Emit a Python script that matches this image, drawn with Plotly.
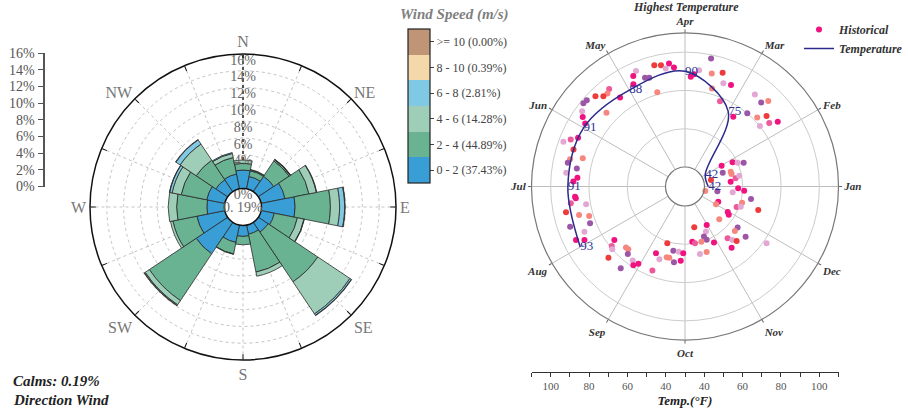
import plotly.graph_objects as go

W, H = 908, 412
SERIF = "Liberation Serif"

# ---------------- Wind rose data ----------------
directions = ['N', 'NNE', 'NE', 'ENE', 'E', 'ESE', 'SE', 'SSE',
              'S', 'SSW', 'SW', 'WSW', 'W', 'WNW', 'NW', 'NNW']
dir_angles = [0, 22.5, 45, 67.5, 90, 112.5, 135, 157.5,
              180, 202.5, 225, 247.5, 270, 292.5, 315, 337.5]
speed_bins = ['0 - 2 (37.43%)', '2 - 4 (44.89%)', '4 - 6 (14.28%)',
              '6 - 8 (2.81%)', '8 - 10 (0.39%)', '>= 10 (0.00%)']
freq_0_2 = [2.2, 1.5, 2.2, 2.9, 4.0, 1.6, 1.4, 1.1, 1.3, 2.1, 4.5, 3.4, 2.1, 2.2, 1.7, 1.8]
freq_2_4 = [0.8, 0.7, 2.2, 2.9, 4.2, 2.8, 7.1, 4.6, 1.0, 1.4, 6.7, 2.9, 3.6, 3.1, 2.8, 2.0]
freq_4_6 = [0.4, 0.1, 0.15, 0.9, 1.1, 0.8, 4.6, 0.5, 0.0, 0.05, 0.6, 0.3, 1.0, 1.1, 2.3, 0.5]
freq_6_8 = [0.0, 0.05, 0.05, 0.05, 0.6, 0.05, 0.2, 0.0, 0.0, 0.0, 0.1, 0.0, 0.0, 0.3, 0.6, 0.1]
freq_8_10 = [0.0, 0.0, 0.03, 0.0, 0.05, 0.0, 0.05, 0.0, 0.0, 0.0, 0.05, 0.0, 0.0, 0.03, 0.05, 0.0]
freq_ge10 = [0.0] * 16
rose_ticks = [0, 2, 4, 6, 8, 10, 12, 14, 16]
calms_text = '0. 19%'

# ---------------- Temperature data ----------------
months = ['Jan', 'Feb', 'Mar', 'Apr', 'May', 'Jun', 'Jul', 'Aug', 'Sep', 'Oct', 'Nov', 'Dec']
month_angles = [0, 30, 60, 90, 120, 150, 180, 210, 240, 270, 300, 330]
temp_theta = [0, 30, 60, 90, 120, 150, 180, 210]
temp_values = [42, 42, 75, 90, 88, 91, 91, 93]
temp_ticks = [40, 60, 80, 100]

hist_theta = [97.4, 101.2, 104.2, 99.3, 95.3, 113.0, 110.2, 108.2, 115.1, 116.8,
              126.1, 127.9, 129.8, 132.1, 134.8, 138.7, 140.7, 143.8, 145.8, 136.8,
              106.4, 147.7, 155.5, 157.6, 159.8, 161.6, 166.7, 164.6, 168.5, 170.5,
              173.4, 175.3, 177.5, 185.3, 87.0, 85.4, 83.1, 78.5, 76.7, 74.6,
              14.0, 347.5, 71.7, 69.6, 65.6, 67.7, 52.8, 47.8, 45.8, 55.3,
              49.6, 43.7, 40.8, 38.9, 37.0, 34.9, 26.9, 24.3, 22.1, 29.5,
              20.1, 17.9, 15.0, 9.2, 11.2, 6.0, 358.1, 356.0, 353.1, 351.5,
              349.3, 344.1, 338.4, 340.1, 342.2, 335.5, 329.2, 327.2, 316.3, 299.4,
              294.9, 322.0, 318.3, 290.7, 292.1, 286.5, 297.3, 309.5, 311.5, 313.5,
              320.4, 307.3, 325.2, 288.3, 282.5, 186.2, 188.4, 190.2, 192.2, 195.0,
              197.1, 201.2, 199.3, 204.2, 206.1, 208.0, 217.1, 219.1, 220.8, 226.0,
              227.9, 229.7, 222.9, 234.8, 236.7, 238.9, 231.8, 248.8, 252.7, 246.5,
              250.6, 255.5, 257.6, 259.7, 264.5, 268.5, 261.7, 266.7, 277.5, 280.0,
              282.8, 330.1]
hist_temp = [94.6, 94.4, 95.2, 92.3, 92.3, 95.3, 90.3, 89.6, 93.5, 89.6,
             87.4, 94.3, 93.1, 93.4, 96.2, 98.1, 98.4, 96.4, 94.4, 86.1,
             81.1, 91.5, 91.2, 94.4, 97.5, 91.2, 91.5, 85.2, 92.3, 87.1,
             92.3, 86.2, 88.2, 87.5, 87.2, 88.7, 91.0, 98.1, 90.5, 82.9,
             43.8, 40.7, 92.4, 87.3, 88.0, 78.0, 90.2, 89.1, 92.2, 74.1,
             80.0, 82.0, 86.1, 80.1, 84.9, 88.9, 57.7, 60.0, 62.9, 51.8,
             50.8, 54.9, 55.0, 56.6, 58.7, 53.8, 57.6, 60.8, 54.9, 46.9,
             64.9, 60.8, 58.8, 60.8, 70.0, 48.9, 55.8, 57.0, 54.6, 52.9,
             55.8, 64.7, 64.7, 57.8, 59.9, 59.9, 62.8, 64.8, 67.1, 69.0,
             70.9, 70.0, 81.7, 65.8, 65.9, 87.2, 90.1, 82.3, 93.4, 87.1,
             82.2, 83.0, 93.4, 87.4, 93.2, 89.3, 76.1, 79.1, 80.0, 74.2,
             74.0, 76.0, 84.4, 77.2, 79.0, 77.0, 84.1, 76.9, 60.9, 67.8,
             70.1, 68.0, 67.9, 63.9, 64.0, 64.7, 69.8, 68.7, 58.9, 59.9,
             51.6, 48.5]
# year group of each historical observation (0..5)
hist_group = [0, 1, 1, 4, 0, 4, 3, 3, 0, 0,
              0, 5, 2, 1, 1, 3, 3, 4, 0, 2,
              2, 0, 0, 5, 4, 1, 2, 2, 3, 3,
              4, 0, 0, 0, 0, 0, 4, 3, 2, 2,
              1, 2, 1, 4, 0, 5, 4, 3, 2, 0,
              3, 2, 1, 4, 5, 0, 0, 4, 3, 0,
              3, 2, 2, 5, 4, 0, 0, 0, 4, 3,
              3, 2, 5, 4, 1, 0, 0, 0, 2, 0,
              4, 3, 2, 3, 3, 2, 0, 5, 4, 1,
              3, 0, 4, 2, 4, 0, 5, 4, 1, 2,
              2, 3, 3, 4, 0, 0, 0, 5, 4, 2,
              2, 3, 1, 4, 0, 0, 3, 5, 1, 0,
              4, 2, 2, 3, 4, 0, 3, 0, 0, 5,
              1, 2]

# ---------------- styles ----------------
speed_colors = ['#3A9ED6', '#69B393', '#9FCEB8', '#80C9E5', '#F4D8A9', '#C09477']
group_colors = ['#F0137F', '#EE3B3B', '#F6877F', '#9C56A6', '#E2A8D3', '#EC5A9B']
freq_sets = [freq_0_2, freq_2_4, freq_4_6, freq_6_8, freq_8_10, freq_ge10]

fig = go.Figure()

for vals, col, name in zip(freq_sets, speed_colors, speed_bins):
    fig.add_trace(go.Barpolar(
        theta=dir_angles, r=vals, width=[22.5] * len(dir_angles), name=name,
        marker=dict(color=col, line=dict(color='#2a2a2a', width=0.8)),
        subplot='polar', showlegend=False))

# dotted radial axis line of the wind rose (only the part above the N bar)
n_top = sum(f[0] for f in freq_sets)
fig.add_trace(go.Scatterpolar(
    theta=[dir_angles[0], dir_angles[0]], r=[n_top, rose_ticks[-1]],
    mode='lines', line=dict(color='#222', width=1.5, dash='dot'),
    subplot='polar', showlegend=False, hoverinfo='skip'))

# radial tick labels along the N axis
rose_label_vals = [t for t in rose_ticks if t != 2]
fig.add_trace(go.Scatterpolar(
    theta=[dir_angles[0]] * len(rose_label_vals), r=rose_label_vals,
    text=[f'{t}%' for t in rose_label_vals], mode='text', textposition='bottom center',
    textfont=dict(family=SERIF, size=14, color='#666'), cliponaxis=False,
    subplot='polar', showlegend=False, hoverinfo='skip'))

# historical points
fig.add_trace(go.Scatterpolar(
    theta=hist_theta, r=hist_temp, mode='markers', name='Historical',
    marker=dict(size=6, color=[group_colors[g] for g in hist_group]),
    subplot='polar2'))

# temperature line
fig.add_trace(go.Scatterpolar(
    theta=temp_theta, r=temp_values, mode='lines+text', name='Temperature',
    text=[str(v) for v in temp_values], textposition='middle right',
    textfont=dict(family=SERIF, size=13, color='#2E3192'),
    line=dict(color='#2B2B8C', width=1.5, shape='spline'),
    subplot='polar2', cliponaxis=False))

# left auxiliary percentage axis + colorbar legend (dummy trace)
n_bins = len(speed_bins)
cs = []
for i, c in enumerate(speed_colors):
    cs.append([i / n_bins, c])
    cs.append([(i + 1) / n_bins, c])
fig.add_trace(go.Scatter(
    x=[None], y=[None], mode='markers', xaxis='x2', yaxis='y2', showlegend=False,
    hoverinfo='skip',
    marker=dict(color=[0], cmin=0, cmax=n_bins, colorscale=cs, showscale=True,
                colorbar=dict(x=408 / W, xanchor='left', y=1 - 29 / H, yanchor='top',
                              len=154, lenmode='pixels', thickness=22, thicknessmode='pixels',
                              outlinecolor='#222', outlinewidth=1.2, xpad=0, ypad=0,
                              tickvals=[i + 0.5 for i in range(n_bins)], ticktext=speed_bins,
                              ticks='outside', ticklen=4, tickcolor='#444',
                              tickfont=dict(family=SERIF, size=12, color='#444')))))

# bottom temperature axis dummy
fig.add_trace(go.Scatter(x=[None], y=[None], xaxis='x', yaxis='y', showlegend=False,
                         hoverinfo='skip'))

# temperature axis ticks: mirrored radial scale (hole offset 10 units)
r_center = temp_ticks[0] - 10
r_max = 110
tick_pos = list(range(-(r_max - r_center), r_max - r_center + 1, 10))
tick_txt = [str(abs(p) + r_center) if (p != 0 and abs(p) + r_center in temp_ticks) else ''
            for p in tick_pos]


def ann(text, x, y, size, color, bold_italic=True, xanchor='center'):
    f = dict(family=SERIF, size=size, color=color)
    if bold_italic:
        f.update(weight='bold', style='italic')
    return dict(text=text, x=x / W, y=1 - y / H, xref='paper', yref='paper',
                xanchor=xanchor, yanchor='middle', showarrow=False, font=f)


fig.update_layout(
    width=W, height=H, margin=dict(l=0, r=0, t=0, b=0, autoexpand=False),
    paper_bgcolor='white', plot_bgcolor='white',
    font=dict(family=SERIF),
    polar=dict(
        domain=dict(x=[90 / W, 396 / W], y=[1 - 360 / H, 1 - 54 / H]),
        hole=18.5 / 153, bgcolor='white', barmode='stack',
        radialaxis=dict(range=[rose_ticks[0], rose_ticks[-1]], tickvals=rose_ticks[1:],
                        showticklabels=False, ticks='', showline=False,
                        gridcolor='#c4c4c4', griddash='dot', gridwidth=1, angle=90),
        angularaxis=dict(rotation=90, direction='clockwise', tickmode='array',
                         tickvals=dir_angles,
                         ticktext=[d if i % 2 == 0 else '' for i, d in enumerate(directions)],
                         ticks='inside', ticklen=5, tickcolor='#111',
                         linecolor='#111', linewidth=1.5,
                         gridcolor='#c4c4c4', griddash='dot',
                         tickfont=dict(family=SERIF, size=16, color='#777'))),
    polar2=dict(
        domain=dict(x=[531.5 / W, 838.5 / W], y=[1 - 340 / H, 1 - 33 / H]),
        hole=19.5 / 153.5, bgcolor='white',
        radialaxis=dict(range=[temp_ticks[0], r_max], tickvals=temp_ticks,
                        showticklabels=False, ticks='', showline=False,
                        gridcolor='#cccccc', gridwidth=1),
        angularaxis=dict(rotation=0, direction='counterclockwise', tickmode='array',
                         tickvals=month_angles, ticktext=months,
                         ticks='outside', ticklen=3, tickcolor='#666',
                         linecolor='#777', linewidth=1.2, gridcolor='#bdbdbd',
                         tickfont=dict(family=SERIF, size=11, color='#333',
                                       weight='bold', style='italic'))),
    xaxis=dict(domain=[531.5 / W, 838.5 / W], anchor='y', range=[tick_pos[0], tick_pos[-1]],
               tickmode='array', tickvals=tick_pos, ticktext=tick_txt, automargin=False,
               ticks='outside', ticklen=4, tickcolor='#333', showline=True,
               linecolor='#333', linewidth=1, showgrid=False, zeroline=False,
               tickfont=dict(family=SERIF, size=11, color='#555'),
               title=dict(text='Temp.(°F)', standoff=4,
                          font=dict(family=SERIF, size=13, color='#222',
                                    weight='bold', style='italic'))),
    yaxis=dict(domain=[40 / H, 50 / H], anchor='x', visible=False, automargin=False),
    xaxis2=dict(domain=[44.5 / W, 60 / W], anchor='y2', visible=False, automargin=False),
    yaxis2=dict(domain=[1 - 186.5 / H, 1 - 53 / H], anchor='x2', range=[rose_ticks[0], rose_ticks[-1]],
                tickmode='array', tickvals=rose_ticks, ticktext=[f'{t}%' for t in rose_ticks],
                ticks='outside', ticklen=5, tickcolor='#555', showline=True, automargin=False,
                linecolor='#555', linewidth=2, showgrid=False, zeroline=False,
                tickfont=dict(family=SERIF, size=14, color='#555')),
    legend=dict(x=1.0, y=1 - 15 / H, xanchor='right', yanchor='top',
                bgcolor='rgba(0,0,0,0)', tracegroupgap=0, itemwidth=30,
                font=dict(family=SERIF, size=12, color='#333', weight='bold', style='italic')),
    annotations=[
        ann('Wind Speed (m/s)', 454, 15, 15, '#7f7f7f'),
        ann('Highest Temperature', 686, 7, 12, '#333'),
        ann('Calms: 0.19%', 11, 381, 15, '#222', xanchor='left'),
        ann('Direction Wind', 11, 400, 15, '#222', xanchor='left'),
        ann(calms_text, 243, 207, 14, '#666', bold_italic=False),
    ],
)

fig.write_html('out.html', config={'displayModeBar': False},
               post_script="document.body.style.margin='0';")
